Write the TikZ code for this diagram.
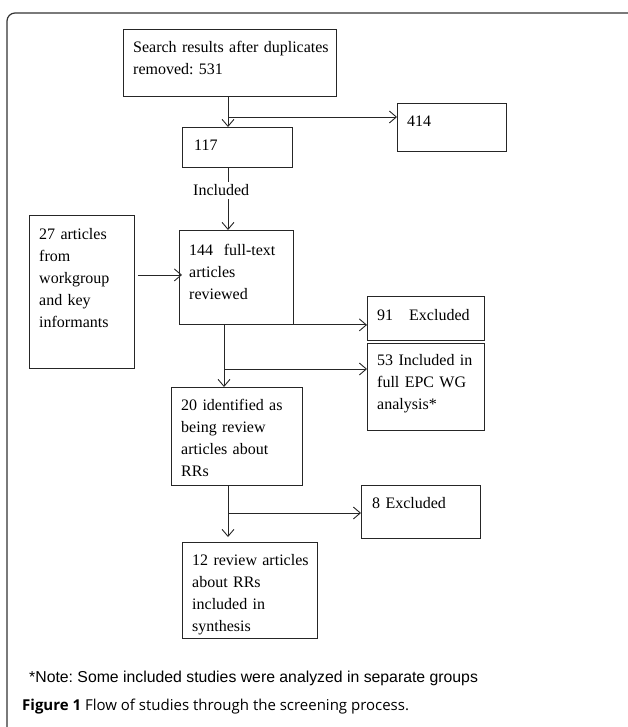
\documentclass[tikz,border=0pt]{standalone}
\usepackage{fontspec}
\setmainfont{Liberation Serif}
\newfontfamily\notefont{Liberation Sans}
\newfontfamily\capfont{Open Sans}
\usetikzlibrary{arrows.meta,calc}
\frenchspacing
\begin{document}
\begin{tikzpicture}[x=1pt,y=-1pt,
  box/.style={draw=black!85, line width=0.9pt, rectangle, inner sep=0pt, anchor=north west},
  txt/.style={anchor=base west, inner sep=0pt, align=left, text width=#1, font=\fontsize{16}{22}\selectfont},
  txt/.default=200pt,
  conn/.style={draw=black!85, line width=0.9pt, -{Straight Barb[length=7pt,width=12pt]}},
  plainline/.style={draw=black!85, line width=0.9pt}]
\useasboundingbox (0,0) rectangle (627,727);
% outer frame
\draw[black!80, line width=1.2pt, rounded corners=8pt] (7,730) -- (7,13) -- (630,13);
% boxes
\node[box, minimum width=213pt, minimum height=67pt] (A) at (123,29) {};
\node[box, minimum width=109pt, minimum height=48pt] (B) at (397,103) {};
\node[box, minimum width=110pt, minimum height=40pt] (C) at (182,127) {};
\node[box, minimum width=105pt, minimum height=153pt] (D) at (29,215) {};
\node[box, minimum width=114pt, minimum height=94pt] (E) at (179,230) {};
\node[box, minimum width=117pt, minimum height=44pt] (F) at (367,296) {};
\node[box, minimum width=117pt, minimum height=87pt] (G) at (367,343) {};
\node[box, minimum width=131pt, minimum height=98pt] (H) at (171,387) {};
\node[box, minimum width=119pt, minimum height=53pt] (I) at (361,485) {};
\node[box, minimum width=135pt, minimum height=96pt] (J) at (182,542) {};
% texts
\node[txt] (tA) at (133,53) {Search results after duplicates\\removed: 531};
\node[txt] (tB) at (407,127) {414};
\node[txt] (tC) at (194,151) {117};
\node[txt] (tD) at (39,239) {27 articles\\from\\workgroup\\and key\\informants};
\node[txt] (tE) at (189,255) {144\ \ full-text\\articles\\reviewed};
\node[txt] (tF) at (377,320) {91\ \ \ Excluded};
\node[txt] (tG) at (377,365) {53 Included in\\full EPC WG\\analysis*};
\node[txt] (tH) at (181,410) {20 identified as\\being review\\articles about\\RRs};
\node[txt] (tI) at (372,508) {8 Excluded};
\node[txt] (tJ) at (192,565) {12 review articles\\about RRs\\included in\\synthesis};
\node[anchor=base west, inner sep=3pt, font=\fontsize{16}{22}\selectfont] (inc) at (190,196) {Included};
% connectors
\draw[conn] ([xshift=105pt]A.south west) -- ([xshift=105pt]A.south west |- C.north);
\coordinate (j1) at (228,117);
\draw[conn] (j1) -- (j1 -| B.west);
\draw[plainline] ([xshift=46pt]C.south west) -- ([xshift=46pt]C.south west |- inc.north);
\draw[conn] ([xshift=46pt]C.south west |- inc.south) -- ([xshift=46pt]C.south west |- E.north);
\draw[conn] ([shift={(3,-17)}]D.east) -- ([shift={(3,-17)}]D.east -| E.west);
\draw[conn] (E.south east) -- (E.south east -| F.west);
\draw[conn] ([xshift=45pt]E.south west) -- ([xshift=45pt]E.south west |- H.north);
\coordinate (j2) at (225,369);
\draw[conn] (j2) -- (j2 -| G.west);
\draw[conn, shorten >=5pt] ([xshift=57pt]H.south west) -- ([xshift=57pt]H.south west |- J.north);
\coordinate (j3) at (228,513);
\draw[conn] (j3) -- (j3 -| I.west);
% note and caption
\node[anchor=base west, inner sep=0pt, font=\notefont\fontsize{15.8}{18}\selectfont] (note) at (29,682) {*Note: Some included studies were analyzed in separate groups};
\node[anchor=base west, inner sep=0pt, font=\capfont\fontsize{15}{18}\selectfont] (cap) at (22,710) {\textbf{Figure 1} Flow of studies through the screening process.};
\end{tikzpicture}
\end{document}
